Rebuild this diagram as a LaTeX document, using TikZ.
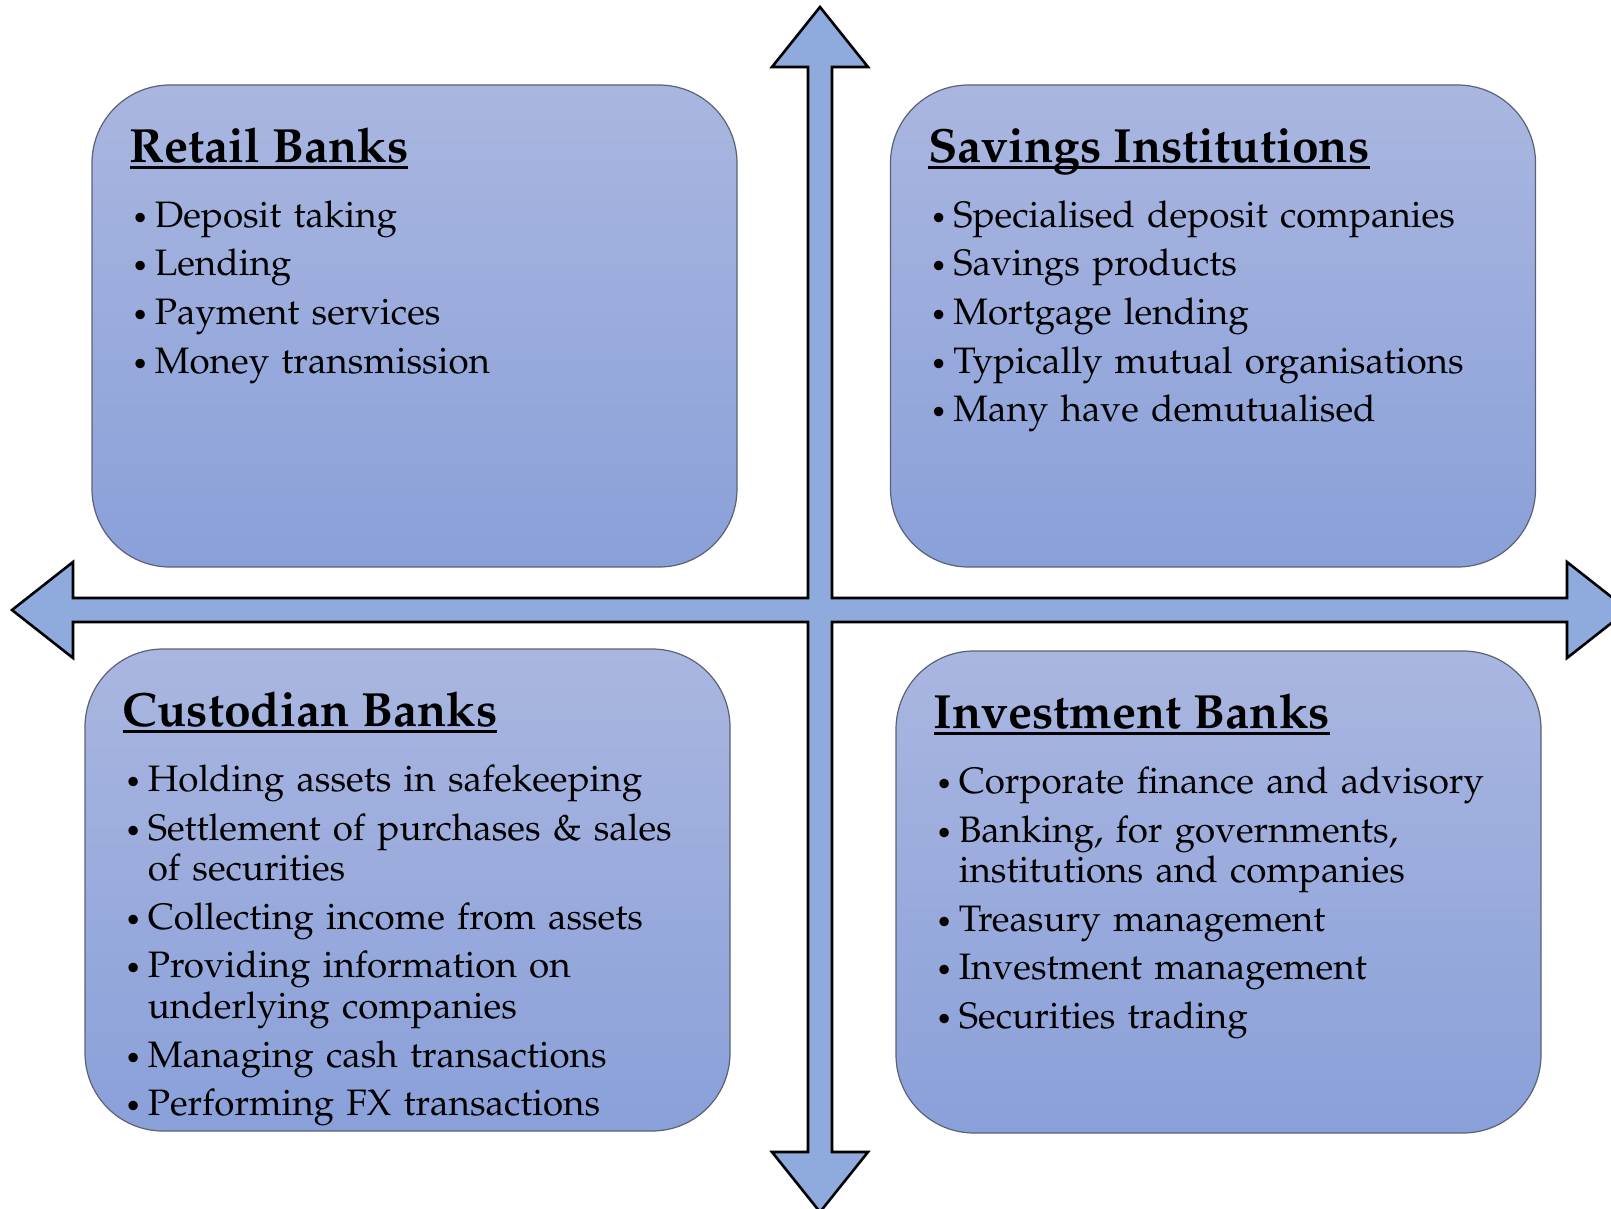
\documentclass[tikz,border=0pt]{standalone}
\usepackage[T1]{fontenc}
\usepackage{mathpazo}
\usepackage{graphicx}
\usetikzlibrary{positioning}

\definecolor{boxtop}{HTML}{A9B6E0}
\definecolor{boxbottom}{HTML}{8AA0D9}
\definecolor{arrowblue}{HTML}{8FAADC}
\definecolor{boxline}{HTML}{5B6275}

% underlined heading, rule at a fixed depth
\newcommand{\banktitle}[1]{\setbox0=\hbox{#1}\rlap{\vrule width\wd0 height -2pt depth 3.5pt}\box0}
\newcommand{\bankitem}[1]{\hangindent=11.5pt\hangafter=1\noindent\makebox[11.5pt][l]{\scalebox{0.75}{\textbullet}}#1\par}

\tikzset{
  bankbox/.style={draw=boxline, line width=0.6pt, rounded corners=39pt,
    top color=boxtop, bottom color=boxbottom,
    minimum width=322.5pt, minimum height=241pt, inner sep=0pt},
  banktitlenode/.style={anchor=base west, inner sep=0pt, font=\fontsize{24}{28}\selectfont\bfseries},
  banklist/.style={anchor=base west, inner sep=0pt, text width=310pt,
    font=\fontsize{18.4}{20.3}\selectfont},
  crossarrow/.style={draw=black, fill=arrowblue, line width=1.3pt, line join=miter}
}

\begin{document}
\begin{tikzpicture}[x=0.5pt, y=-0.5pt]
  \useasboundingbox (0,0) rectangle (1611,1209);
  \clip (0,0) rectangle (1611,1209);

  % four way arrow
  \draw[crossarrow] (808,67) -- (772,67) -- (820,7) -- (868,67) -- (832,67) -- (832,598)
    -- (1567,598) -- (1567,562) -- (1628,610) -- (1567,658) -- (1567,622) -- (832,622)
    -- (832,1152) -- (868,1152) -- (820,1212) -- (772,1152) -- (808,1152) -- (808,622)
    -- (73,622) -- (73,658) -- (12,610) -- (73,562) -- (73,598) -- (808,598) -- cycle;

  \node[bankbox] (retail) at (414.5,326) {};
  \node[bankbox] (savings) at (1213,326) {};
  \node[bankbox] (custodian) at (407.5,890) {};
  \node[bankbox] (investment) at (1218.5,892) {};

  \node[banktitlenode] (retailtitle) at ([xshift=19pt, yshift=-39pt]retail.north west) {\banktitle{Retail Banks}};
  \node[banklist] (retaillist) at ([xshift=20pt, yshift=-71.5pt]retail.north west) {\setlength{\parskip}{4pt}%
    \bankitem{Deposit taking}
    \bankitem{Lending}
    \bankitem{Payment services}
    \bankitem{Money transmission}};

  \node[banktitlenode] (savingstitle) at ([xshift=19pt, yshift=-39pt]savings.north west) {\banktitle{Savings Institutions}};
  \node[banklist] (savingslist) at ([xshift=20pt, yshift=-71.5pt]savings.north west) {\setlength{\parskip}{4pt}%
    \bankitem{Specialised deposit companies}
    \bankitem{Savings products}
    \bankitem{Mortgage lending}
    \bankitem{Typically mutual organisations}
    \bankitem{Many have demutualised}};

  \node[banktitlenode] (custodiantitle) at ([xshift=19pt, yshift=-39pt]custodian.north west) {\banktitle{Custodian Banks}};
  \node[banklist] (custodianlist) at ([xshift=20pt, yshift=-71.5pt]custodian.north west) {\setlength{\parskip}{4pt}%
    \bankitem{Holding assets in safekeeping}
    \bankitem{Settlement of purchases \& sales\newline of securities}
    \bankitem{Collecting income from assets}
    \bankitem{Providing information on\newline underlying companies}
    \bankitem{Managing cash transactions}
    \bankitem{Performing FX transactions}};

  \node[banktitlenode] (investmenttitle) at ([xshift=19pt, yshift=-39pt]investment.north west) {\banktitle{Investment Banks}};
  \node[banklist] (investmentlist) at ([xshift=20pt, yshift=-71.5pt]investment.north west) {\setlength{\parskip}{4pt}%
    \bankitem{Corporate finance and advisory}
    \bankitem{Banking, for governments,\newline institutions and companies}
    \bankitem{Treasury management}
    \bankitem{Investment management}
    \bankitem{Securities trading}};
\end{tikzpicture}
\end{document}
